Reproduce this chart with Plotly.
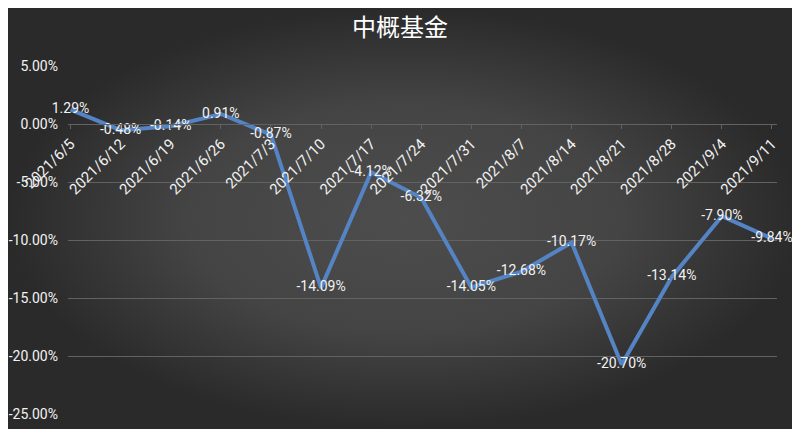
import plotly.graph_objects as go

# weekly returns of the China-concept fund, in percent
dates = ["2021/6/5", "2021/6/12", "2021/6/19", "2021/6/26", "2021/7/3",
         "2021/7/10", "2021/7/17", "2021/7/24", "2021/7/31", "2021/8/7",
         "2021/8/14", "2021/8/21", "2021/8/28", "2021/9/4", "2021/9/11"]
returns = [1.29, -0.48, -0.14, 0.91, -0.87,
           -14.09, -4.12, -6.32, -14.05, -12.68,
           -10.17, -20.70, -13.14, -7.90, -9.84]
y_ticks = [5, 0, -5, -10, -15, -20, -25]

# the page puts the figure 8px in from the top-left corner
OFF = 8
W, H = 800 - OFF, 429 - OFF
xdom = [(68 - OFF) / W, (777 - OFF) / W]
ydom = [(429 - 415) / H, (429 - 66) / H]
ymin, ymax = -25, 5
zero_pos = ydom[0] + (0 - ymin) / (ymax - ymin) * (ydom[1] - ydom[0])

txt = "#f2f2f2"
grid = "#626262"
font = "Roboto"

fig = go.Figure()

# background: radial grey gradient over the whole page
fig.add_trace(go.Scatter(
    x=[0, 1, 1, 0, 0], y=[0, 0, 1, 1, 0],
    xaxis="x", yaxis="y", mode="lines", line=dict(width=0),
    fill="toself",
    fillgradient=dict(type="radial",
                      colorscale=[[0, "#4d4d4d"], [0.55, "#444444"], [1, "#2a2a2a"]]),
    hoverinfo="skip", showlegend=False,
))

fig.add_trace(go.Scatter(
    x=dates, y=returns, xaxis="x2", yaxis="y2",
    mode="lines+text",
    line=dict(color="#5584c4", width=4),
    text=[f"{v:.2f}%" for v in returns],
    textposition="middle center",
    textfont=dict(family=font, size=14, color=txt),
    cliponaxis=False,
    showlegend=False,
))

fig.update_layout(
    width=W, height=H,
    margin=dict(l=0, r=0, t=0, b=0, autoexpand=False),
    paper_bgcolor="#2e2e2e",
    plot_bgcolor="rgba(0,0,0,0)",
    showlegend=False,
    title=dict(text="中概基金", x=(400 - OFF) / W, xanchor="center",
               y=1 - (28 - OFF) / H, yanchor="middle", yref="paper",
               font=dict(family="Noto Sans CJK SC", size=24, color="#ffffff")),
    xaxis=dict(domain=[0, 1], range=[0, 1], visible=False, fixedrange=True),
    yaxis=dict(domain=[0, 1], range=[0, 1], visible=False, fixedrange=True),
    xaxis2=dict(
        domain=xdom, anchor="free", position=zero_pos,
        type="category", range=[-0.05, 14.1],
        showgrid=False, showline=True, linecolor=grid, linewidth=1,
        ticks="outside", ticklen=4, tickcolor=grid,
        tickangle=-45, automargin=False,
        tickfont=dict(family=font, size=15, color=txt),
    ),
    yaxis2=dict(
        domain=ydom, anchor="x2", range=[ymin - 0.05, ymax + 0.05],
        tickvals=y_ticks, ticktext=[f"{v:.2f}%" for v in y_ticks],
        showgrid=True, gridcolor=grid, gridwidth=1,
        zeroline=False, showline=False, ticks="",
        ticklabelstandoff=9, automargin=False,
        tickfont=dict(family=font, size=14, color=txt),
    ),
)

fig.write_html("out.html")
